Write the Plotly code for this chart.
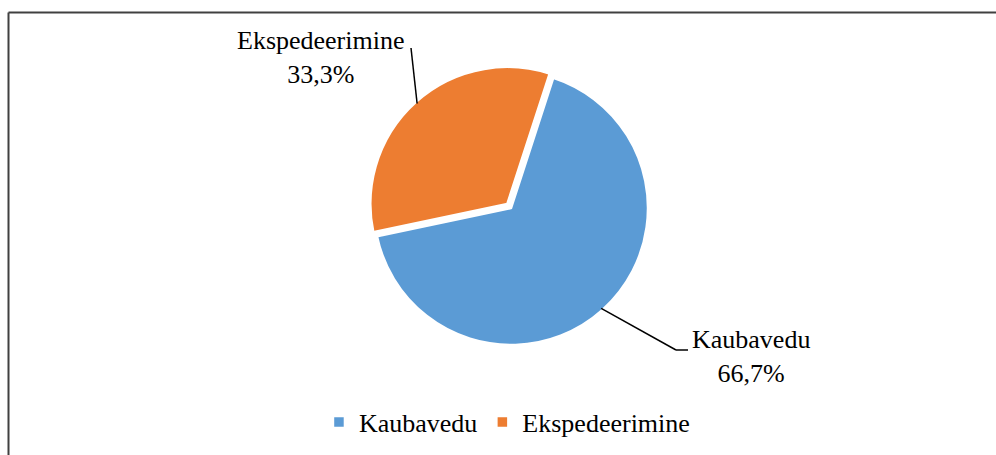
"""Pie chart: Kaubavedu vs Ekspedeerimine share."""

import math

import plotly.graph_objects as go

labels = ["Kaubavedu", "Ekspedeerimine"]
values = [66.7, 33.3]
colors = ["#5B9BD5", "#ED7D31"]
pulls = [0.0, 0.04]

W, H = 996, 455
FONT = "Liberation Serif, Times New Roman, serif"

# pie geometry (pixels)
cx, cy, r = 511, 208, 137
rotation = 18


def px(x):
    return x / W


def py(y):
    return 1 - y / H


fig = go.Figure(
    go.Pie(
        labels=labels,
        values=values,
        sort=False,
        direction="clockwise",
        rotation=rotation,
        pull=pulls,
        textinfo="none",
        hoverinfo="label+percent",
        marker=dict(colors=colors, line=dict(color="white", width=2.5)),
        domain=dict(
            x=[px(cx - r * (1 + max(pulls))), px(cx + r * (1 + max(pulls)))],
            y=[py(cy + r * (1 + max(pulls))), py(cy - r * (1 + max(pulls)))],
        ),
    )
)

# label placement: leader line from slice edge, then text
total = sum(values)
label_style = {
    "Kaubavedu": dict(knee=(676, 350), end=(688, 350), text=(751, 356)),
    "Ekspedeerimine": dict(knee=(411, 48), end=None, text=(321, 57)),
}
shapes = []
annotations = []
start = rotation
for lab, val, pull in zip(labels, values, pulls):
    span = val / total * 360
    mid = math.radians(start + span / 2)
    start += span
    dx, dy = math.sin(mid), -math.cos(mid)
    ox, oy = cx + dx * r * pull, cy + dy * r * pull
    ex, ey = ox + dx * (r - 2), oy + dy * (r - 2)
    st = label_style[lab]
    pts = [(ex, ey), st["knee"]] + ([st["end"]] if st["end"] else [])
    for (x0, y0), (x1, y1) in zip(pts[:-1], pts[1:]):
        shapes.append(dict(
            type="line", xref="paper", yref="paper",
            x0=px(x0), y0=py(y0), x1=px(x1), y1=py(y1),
            line=dict(color="black", width=1.5),
        ))
    pct = f"{val:.1f}".replace(".", ",") + "%"
    annotations.append(dict(
        xref="paper", yref="paper",
        x=px(st["text"][0]), y=py(st["text"][1]),
        xanchor="center", yanchor="middle",
        text=f"{lab}<br>{pct}", showarrow=False, align="center",
        font=dict(family=FONT, size=26, color="black"),
    ))

# chart frame (top and left edges visible)
frame = dict(color="#404040", width=2)
shapes.append(dict(type="line", xref="paper", yref="paper",
                   x0=px(8.5), y0=py(12.5), x1=1.01, y1=py(12.5), line=frame))
shapes.append(dict(type="line", xref="paper", yref="paper",
                   x0=px(8.5), y0=py(12.5), x1=px(8.5), y1=-0.01, line=frame))

fig.update_layout(
    width=W,
    height=H,
    margin=dict(l=0, r=0, t=0, b=0),
    paper_bgcolor="white",
    plot_bgcolor="white",
    font=dict(family=FONT, size=26, color="black"),
    shapes=shapes,
    annotations=annotations,
    showlegend=True,
    legend=dict(
        orientation="h",
        x=0.509,
        xanchor="center",
        y=py(422),
        yanchor="middle",
        font=dict(family=FONT, size=26, color="black"),
        itemwidth=30,
        traceorder="normal",
    ),
)

fig.write_html(
    "out.html",
    config={"displayModeBar": False},
    post_script="document.body.style.margin='0';document.body.style.overflow='hidden';",
)
